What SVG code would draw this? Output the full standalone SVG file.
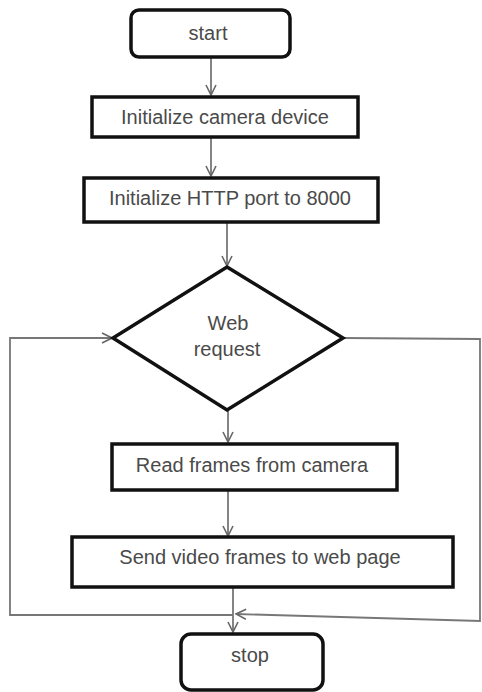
<svg xmlns="http://www.w3.org/2000/svg" width="482" height="692" viewBox="0 0 482 692">
<defs>
<marker id="arr" viewBox="0 0 12 12" refX="11" refY="6" markerWidth="12" markerHeight="12" markerUnits="userSpaceOnUse" orient="auto">
<path d="M1,1 L11,6 L1,11" fill="none" stroke="#666" stroke-width="1.6"/>
</marker>
<style>
.box{fill:#fff;stroke:#111;stroke-width:3.5}
.lbl{font-family:"Liberation Sans",Arial,sans-serif;font-size:20px;fill:#4a4a4a;text-anchor:middle}
.con{fill:none;stroke:#777;stroke-width:1.8}
</style>
</defs>
<rect width="482" height="692" fill="#fff"/>
<g id="connectors">
<line class="con" x1="211" y1="57" x2="211" y2="95" marker-end="url(#arr)"/>
<line class="con" x1="211" y1="137" x2="211" y2="176" marker-end="url(#arr)"/>
<line class="con" x1="227" y1="222" x2="227" y2="266" marker-end="url(#arr)"/>
<line class="con" x1="228" y1="410" x2="228" y2="442" marker-end="url(#arr)"/>
<line class="con" x1="228" y1="490" x2="228" y2="536" marker-end="url(#arr)"/>
<line class="con" x1="233" y1="587" x2="233" y2="632" marker-end="url(#arr)"/>
<polyline class="con" points="343,338 480,339 480,621 236,614" marker-end="url(#arr)"/>
<polyline class="con" points="233,615 10,615 10,338 112,338" marker-end="url(#arr)"/>
</g>
<g id="start">
<rect class="box" x="131" y="10" width="159" height="47" rx="8"/>
<text class="lbl" x="208" y="40">start</text>
</g>
<g id="init-camera">
<rect class="box" x="92" y="97" width="266" height="40"/>
<text class="lbl" x="225" y="124">Initialize camera device</text>
</g>
<g id="init-http">
<rect class="box" x="84" y="178" width="294" height="44"/>
<text class="lbl" x="230" y="205">Initialize HTTP port to 8000</text>
</g>
<g id="web-request">
<polygon class="box" points="227,267 343,338 227,410 113,338"/>
<text class="lbl" x="228" y="330">Web</text>
<text class="lbl" x="227" y="356">request</text>
</g>
<g id="read-frames">
<rect class="box" x="112" y="444" width="285" height="46"/>
<text class="lbl" x="252" y="472">Read frames from camera</text>
</g>
<g id="send-frames">
<rect class="box" x="72" y="537" width="381" height="50"/>
<text class="lbl" x="260" y="564">Send video frames to web page</text>
</g>
<g id="stop">
<rect class="box" x="181" y="634" width="142" height="56" rx="10"/>
<text class="lbl" x="250" y="662">stop</text>
</g>
</svg>
